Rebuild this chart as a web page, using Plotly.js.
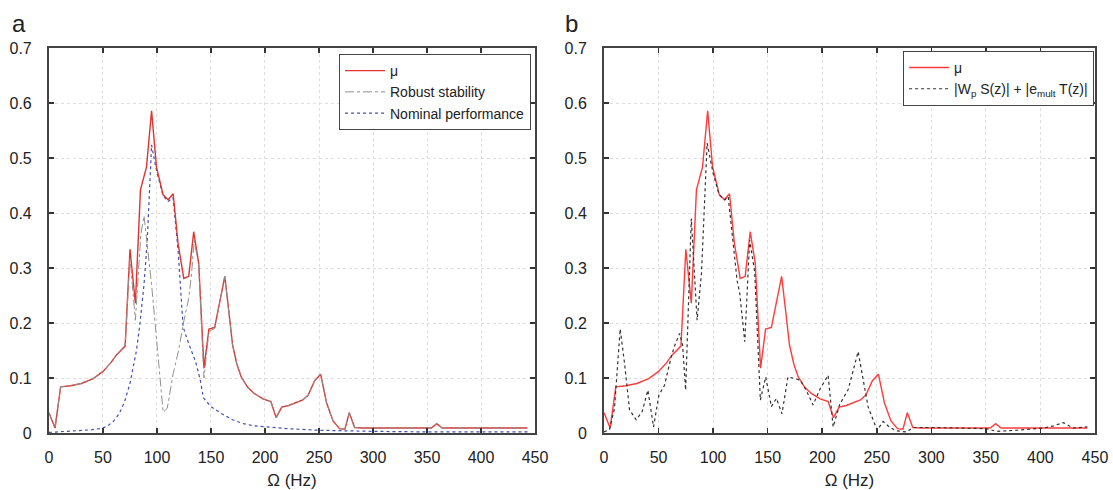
<!DOCTYPE html>
<html>
<head>
<meta charset="utf-8">
<script src="https://cdn.plot.ly/plotly-3.0.1.min.js"></script>
<style>html,body{margin:0;padding:0;background:#fff;}#chart{width:1113px;height:490px;}</style>
</head>
<body>
<div id="chart"></div>
<script>
// mu (both panels)
const muHz  = [0, 5.6, 10.8, 20, 30, 41, 50, 57, 62.5, 67, 70.5, 75, 80, 84.7, 90.3, 95, 99.5, 105.7, 110.3, 115, 119.5, 124.8, 129.4, 134, 138.6, 143.5, 148.1, 153.4, 158, 162.8, 166, 170, 174, 178, 184, 190, 198, 205.5, 210.3, 215.5, 222, 229, 235, 240, 246, 251.5, 257, 263, 269, 274, 278, 283, 290, 354, 359, 364, 443];
const muVal = [0.037, 0.009, 0.084, 0.086, 0.09, 0.099, 0.112, 0.127, 0.142, 0.152, 0.158, 0.334, 0.236, 0.442, 0.484, 0.586, 0.484, 0.433, 0.424, 0.435, 0.345, 0.281, 0.285, 0.366, 0.309, 0.118, 0.189, 0.192, 0.235, 0.285, 0.23, 0.16, 0.125, 0.102, 0.083, 0.072, 0.062, 0.057, 0.028, 0.047, 0.05, 0.055, 0.06, 0.069, 0.095, 0.107, 0.055, 0.022, 0.008, 0.007, 0.037, 0.010, 0.009, 0.009, 0.017, 0.009, 0.009];

// Robust stability (panel a)
const rsHz  = [0, 5.6, 10.8, 20, 30, 41, 50, 57, 62.5, 67, 70.5, 75, 80, 85, 88, 95, 100, 105.7, 109.5, 115, 120, 124.5, 129.4, 132, 134.5, 138.6, 143.5, 148.1, 153.4, 158, 162.8, 166, 170, 174, 178, 184, 190, 198, 205.5, 210.3, 215.5, 222, 229, 235, 240, 246, 251.5, 257, 263, 269, 274, 278, 283, 290, 354, 359, 364, 443];
const rsVal = [0.037, 0.009, 0.084, 0.086, 0.09, 0.099, 0.112, 0.127, 0.142, 0.152, 0.158, 0.32, 0.205, 0.36, 0.395, 0.27, 0.16, 0.038, 0.045, 0.108, 0.15, 0.2, 0.245, 0.29, 0.35, 0.305, 0.10, 0.185, 0.19, 0.235, 0.285, 0.23, 0.16, 0.125, 0.102, 0.083, 0.072, 0.062, 0.057, 0.028, 0.047, 0.05, 0.055, 0.06, 0.069, 0.095, 0.107, 0.055, 0.022, 0.008, 0.007, 0.037, 0.010, 0.009, 0.009, 0.017, 0.009, 0.009];

// Nominal performance (panel a)
const npHz  = [0, 10, 20, 30, 40, 50, 55, 60, 65, 70, 75, 78, 81, 84, 88, 91, 93, 95, 99, 105.5, 110.3, 114.9, 119.5, 124.2, 128, 132, 136, 140, 143, 150, 160, 170, 180, 190, 200, 220, 250, 270, 300, 350, 443];
const npVal = [0.001, 0.002, 0.003, 0.004, 0.006, 0.009, 0.014, 0.022, 0.035, 0.057, 0.09, 0.12, 0.15, 0.195, 0.27, 0.35, 0.43, 0.524, 0.482, 0.432, 0.421, 0.428, 0.333, 0.193, 0.17, 0.15, 0.128, 0.097, 0.064, 0.048, 0.035, 0.024, 0.017, 0.013, 0.011, 0.008, 0.005, 0.004, 0.003, 0.002, 0.002];

// |Wp S(z)| + |e_mult T(z)| (panel b)
const bsHz  = [0, 5, 9.6, 14.8, 18.8, 23.4, 29.5, 35, 40.2, 45.4, 50.3, 55.5, 61.6, 65, 69.3, 72, 74.8, 80, 85.3, 89.3, 94.5, 100, 105.6, 110.7, 113.8, 118.3, 122, 124.4, 129, 133.5, 138.1, 143.3, 148.2, 153.4, 158, 163.1, 168.6, 174.7, 180, 186, 191.6, 198, 205.4, 210, 216, 223.8, 232.9, 242, 250.3, 255.8, 262, 268, 277, 283.4, 300, 350, 360, 378, 403, 412, 421, 430, 443];
const bsVal = [0.002, 0.006, 0.045, 0.189, 0.127, 0.042, 0.024, 0.039, 0.078, 0.011, 0.069, 0.087, 0.139, 0.16, 0.181, 0.16, 0.078, 0.39, 0.205, 0.29, 0.527, 0.472, 0.433, 0.424, 0.43, 0.339, 0.277, 0.254, 0.166, 0.351, 0.293, 0.06, 0.102, 0.048, 0.063, 0.035, 0.102, 0.099, 0.096, 0.075, 0.051, 0.08, 0.105, 0.011, 0.052, 0.079, 0.148, 0.048, 0.005, 0.021, 0.01, 0.004, 0.002, 0.01, 0.01, 0.008, 0.003, 0.005, 0.009, 0.013, 0.019, 0.009, 0.011];

const xTickVals = [0, 50, 100, 150, 200, 250, 300, 350, 400, 450];
const yTickVals = [0, 0.1, 0.2, 0.3, 0.4, 0.5, 0.6, 0.7];
const xTitle = 'Ω (Hz)';
const panelLabels = ['a', 'b'];
const legA = ['μ', 'Robust stability', 'Nominal performance'];
const legB = ['μ', '|W<sub>p</sub> S(z)| + |e<sub>mult</sub> T(z)|'];

const FONT = 'Liberation Sans, Arial, Helvetica, sans-serif';
const RED = '#e0342e';

const traces = [
  {x: npHz, y: npVal, name: legA[2], mode: 'lines', line: {color: '#4050b8', width: 1.2, dash: 'dot'}, xaxis: 'x', yaxis: 'y', legend: 'legend', legendrank: 3},
  {x: muHz, y: muVal, name: legA[0], mode: 'lines', line: {color: RED, width: 1.4}, xaxis: 'x', yaxis: 'y', legend: 'legend', legendrank: 1},
  {x: rsHz, y: rsVal, name: legA[1], mode: 'lines', line: {color: '#909090', width: 1, dash: 'dashdot'}, xaxis: 'x', yaxis: 'y', legend: 'legend', legendrank: 2},
  {x: muHz, y: muVal, name: legB[0], mode: 'lines', line: {color: '#ff3b3b', width: 1.4}, xaxis: 'x2', yaxis: 'y2', legend: 'legend2', legendrank: 1},
  {x: bsHz, y: bsVal, name: legB[1], mode: 'lines', line: {color: '#333333', width: 1.2, dash: 'dot'}, xaxis: 'x2', yaxis: 'y2', legend: 'legend2', legendrank: 2}
];

function xAxis(domain, anchor) {
  return {
    domain: domain, anchor: anchor, range: [0, 450], tickvals: xTickVals, ticks: 'inside', ticklen: 5, tickwidth: 1.5,
    tickcolor: '#333', showline: true, linecolor: '#444', linewidth: 2, mirror: 'ticks',
    showgrid: true, gridcolor: '#dedede', griddash: 'dot', gridwidth: 1, zeroline: false,
    tickfont: {family: FONT, size: 16, color: '#222'}, ticklabelstandoff: 9,
    title: {text: xTitle, font: {family: FONT, size: 17, color: '#222'}, standoff: 9}, fixedrange: true
  };
}
function yAxis(domain, anchor) {
  return {
    domain: domain, anchor: anchor, range: [0, 0.7], tickvals: yTickVals, ticks: 'inside', ticklen: 5, tickwidth: 1.5,
    tickcolor: '#333', showline: true, linecolor: '#444', linewidth: 2, mirror: 'ticks',
    showgrid: true, gridcolor: '#dedede', griddash: 'dot', gridwidth: 1, zeroline: false,
    tickfont: {family: FONT, size: 16, color: '#222'}, ticklabelstandoff: 12, fixedrange: true
  };
}

const legendBase = {
  bgcolor: '#ffffff', bordercolor: '#444', borderwidth: 1,
  font: {family: FONT, size: 14, color: '#222'}, xanchor: 'right', yanchor: 'top',
  traceorder: 'normal', itemwidth: 40, tracegroupgap: 0
};

const layout = {
  width: 1113, height: 490,
  margin: {l: 0, r: 0, t: 0, b: 0},
  paper_bgcolor: '#ffffff', plot_bgcolor: '#ffffff',
  showlegend: true,
  font: {family: FONT, color: '#222'},
  xaxis: xAxis([0.044, 0.4807], 'y'),
  yaxis: yAxis([0.1163, 0.902], 'x'),
  xaxis2: xAxis([0.5427, 0.9838], 'y2'),
  yaxis2: yAxis([0.1163, 0.902], 'x2'),
  legend: Object.assign({}, legendBase, {x: 0.4771, y: 0.8897}),
  legend2: Object.assign({}, legendBase, {x: 0.983, y: 0.896}),
  annotations: [
    {text: panelLabels[0], xref: 'paper', yref: 'paper', x: 10/1113, y: 1 - 8/490, xanchor: 'left', yanchor: 'top', showarrow: false, font: {family: FONT, size: 24, color: '#222'}},
    {text: panelLabels[1], xref: 'paper', yref: 'paper', x: 563/1113, y: 1 - 8/490, xanchor: 'left', yanchor: 'top', showarrow: false, font: {family: FONT, size: 24, color: '#222'}}
  ]
};

Plotly.newPlot('chart', traces, layout, {staticPlot: true, displayModeBar: false});
</script>
</body>
</html>
